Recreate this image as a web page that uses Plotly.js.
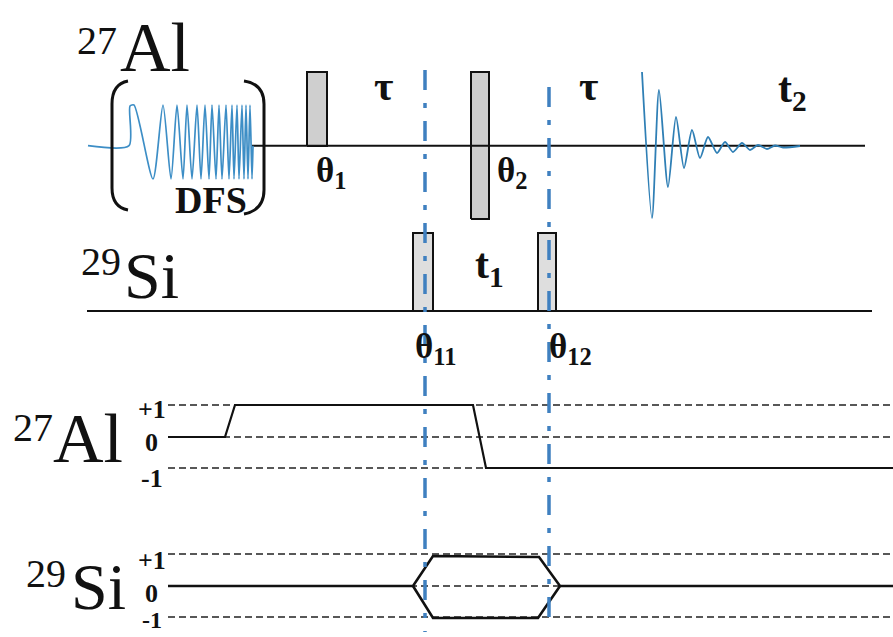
<!DOCTYPE html>
<html>
<head>
<meta charset="utf-8">
<script src="https://cdn.plot.ly/plotly-3.0.1.min.js"></script>
<style>html,body{margin:0;padding:0;background:#fff;}#chart{width:893px;height:637px;}</style>
</head>
<body>
<div id="chart"></div>
<script>
// ---- data (diagram coordinates: time axis x, channel position y) ----
const alChannelY = 145.7;
const siChannelY = 311;
const alLineX = [252, 865];
const siLineX = [87, 872];

// DFS chirp extrema (x, y)
const chirpX = [88, 129, 130, 134, 153, 163, 171, 177, 183, 187, 192, 197, 201, 205, 209, 212, 216, 219, 222, 226, 229, 232, 234, 237, 239, 242, 244, 246, 248, 250, 252, 253];
const chirpY = [145.7, 145.7, 106, 105, 179, 105, 179, 105, 179, 105, 179, 105, 179, 105, 179, 105, 179, 105, 179, 105, 179, 105, 179, 105, 179, 105, 179, 105, 179, 105, 179, 145.7];

// FID extrema
const fidX = [642, 652, 659, 668, 676, 684, 692, 700, 708, 717, 725, 733, 742, 750, 758, 767, 775, 783, 800];
const fidY = [72, 218, 90, 187, 117, 168, 130, 158, 137, 153, 142, 152, 143, 150, 145, 149, 145.5, 147.5, 146];

// pulses
const pulseNames = ['θ1', 'θ2', 'θ11', 'θ12'];
const pulseX0 = [307, 471, 413, 538];
const pulseX1 = [327, 489, 433, 556];
const pulseTop = [72, 72, 233, 233];
const pulseBottom = [146, 219, 311, 311];
const pulseFill = ['#cfcfcf', '#cfcfcf', '#dedede', '#dedede'];

// synchronisation markers
const markerX = [425, 549];
const markerTop = [70, 87];
const markerBottom = [632, 630];

// coherence levels
const levelNames = ['+1', '0', '-1'];
const alLevelY = [405, 437, 468];
const siLevelY = [554, 586, 617];
const levelStartX = 168;
const levelEndX = 893;

// coherence pathways
const alPathX = [168, 225, 235, 473, 486, 893];
const alPathY = [437, 437, 405, 405, 468, 468];
const siUpperX = [168, 413, 433, 539, 560, 893];
const siUpperY = [586, 586, 556, 557, 586, 586];
const siLowerX = [413, 433, 538, 560];
const siLowerY = [586, 618, 618, 586];

const traces = [];
const line = (x, y, color, width, dash, shape) => ({
  x, y, type: 'scatter', mode: 'lines', hoverinfo: 'skip', showlegend: false,
  line: {color, width, dash: dash || 'solid', shape: shape || 'linear', smoothing: 0.7}
});

// pulses (filled rectangles)
for (let i = 0; i < pulseNames.length; i++) {
  traces.push({
    x: [pulseX0[i], pulseX1[i], pulseX1[i], pulseX0[i], pulseX0[i]],
    y: [pulseBottom[i], pulseBottom[i], pulseTop[i], pulseTop[i], pulseBottom[i]],
    type: 'scatter', mode: 'lines', fill: 'toself', fillcolor: pulseFill[i],
    line: {color: '#111', width: 2}, hoverinfo: 'skip', showlegend: false, name: pulseNames[i]
  });
}
// channel baselines
traces.push(line(alLineX, [alChannelY, alChannelY], '#111', 2));
traces.push(line(siLineX, [siChannelY, siChannelY], '#111', 2));
// chirp & FID
traces.push(line(chirpX, chirpY, '#3d8ec6', 1.7, 'solid', 'spline'));
traces.push(line(fidX, fidY, '#2f7fb5', 1.8, 'solid', 'spline'));
// coherence level dashed lines
for (let i = 0; i < levelNames.length; i++) {
  traces.push(line([levelStartX, levelEndX], [alLevelY[i], alLevelY[i]], '#222', 1.6, '7px,4px'));
  traces.push(line([levelStartX, levelEndX], [siLevelY[i], siLevelY[i]], '#222', 1.6, '7px,4px'));
}
// pathways
traces.push(line(alPathX, alPathY, '#111', 2.2));
traces.push(line(siUpperX, siUpperY, '#111', 2.6));
traces.push(line(siLowerX, siLowerY, '#111', 2.6));
// blue markers
for (let i = 0; i < markerX.length; i++) {
  traces.push(line([markerX[i], markerX[i]], [markerTop[i], markerBottom[i]], '#3f80c0', 3.5, '20px,13px,5px,13px'));
}

const serif = 'Liberation Serif';
const ann = (text, x, y, size, bold, xanchor) => ({
  text, x, y, xref: 'x', yref: 'y', showarrow: false, xanchor: xanchor || 'center', yanchor: 'middle',
  font: {family: serif, size, color: '#111', weight: bold ? 'bold' : 'normal'}
});

const annotations = [
  // channel labels
  ann('27', 97, 40, 40, false), ann('Al', 155, 47, 70, false),
  ann('29', 101, 261, 40, false), ann('Si', 151, 275, 66, false),
  ann('27', 33, 427, 40, false), ann('Al', 88, 438, 70, false),
  ann('29', 46, 573, 40, false), ann('Si', 98, 586, 66, false),
  // pulse labels
  ann('θ<sub>1</sub>', 331, 172, 35, true),
  ann('θ<sub>2</sub>', 512, 172, 35, true),
  ann('θ<sub>11</sub>', 435, 348, 35, true),
  ann('θ<sub>12</sub>', 570, 348, 35, true),
  ann('τ', 383, 86, 42, true), ann('τ', 588, 86, 42, true),
  ann('t<sub>1</sub>', 489, 267, 42, true),
  ann('t<sub>2</sub>', 792, 91, 42, true),
  ann('DFS', 211, 200, 38, true)
];
const alLabelY = [409, 442, 478];
const siLabelY = [560, 593, 620];
for (let i = 0; i < levelNames.length; i++) {
  annotations.push(ann(levelNames[i], levelNames[i] === '0' ? 151 : 152, alLabelY[i], 26, true));
  annotations.push(ann(levelNames[i], levelNames[i] === '0' ? 151 : 152, siLabelY[i], i === 2 ? 24 : 26, true));
}

const shapes = [
  {type: 'path', xref: 'x', yref: 'y', path: 'M 128 81 Q 112 84 112 104 L 112 188 Q 112 207 128 210', line: {color: '#111', width: 3}},
  {type: 'path', xref: 'x', yref: 'y', path: 'M 244 81 Q 264 84 264 104 L 264 190 Q 264 210 244 214', line: {color: '#111', width: 3}}
];

const layout = {
  width: 893, height: 637,
  margin: {l: 0, r: 0, t: 0, b: 0},
  paper_bgcolor: '#fff', plot_bgcolor: '#fff',
  font: {family: serif},
  xaxis: {range: [0, 893], visible: false, fixedrange: true},
  yaxis: {range: [637, 0], visible: false, fixedrange: true},
  showlegend: false,
  annotations, shapes
};
Plotly.newPlot('chart', traces, layout, {staticPlot: true, displayModeBar: false});
</script>
</body>
</html>
